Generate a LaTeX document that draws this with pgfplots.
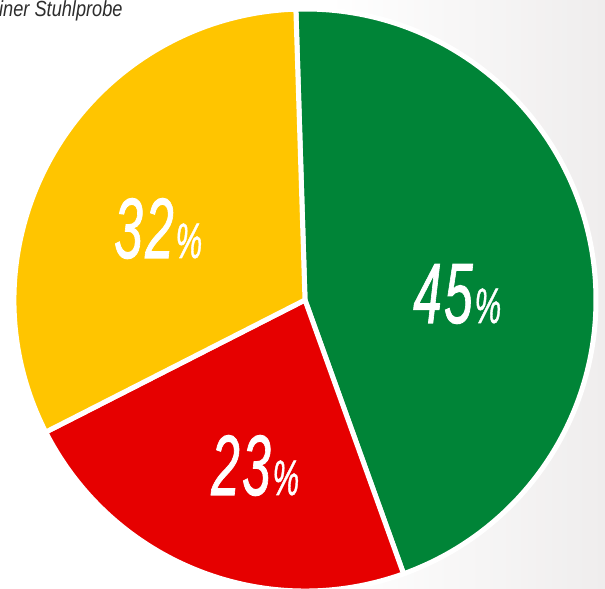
\documentclass[border=0pt]{standalone}
\usepackage{pgfplots}
\usepackage{pgfplotstable}
\pgfplotsset{compat=1.18}
\usepackage{fontspec}
\setmainfont{Liberation Sans}
\newfontfamily\numfont[FakeBold=1.2]{Liberation Sans}
\definecolor{pgreen}{RGB}{0,132,55}
\definecolor{pred}{RGB}{230,0,0}
\definecolor{pyellow}{RGB}{255,197,0}
\definecolor{bggray}{RGB}{239,237,237}
\definecolor{ttext}{RGB}{45,45,45}

\pgfplotstableread{
label value
45 45
23 23
32 32
}\piedata

\pgfplotstablegetelem{0}{value}\of\piedata \pgfmathsetmacro{\vA}{\pgfplotsretval}
\pgfplotstablegetelem{1}{value}\of\piedata \pgfmathsetmacro{\vB}{\pgfplotsretval}
\pgfplotstablegetelem{2}{value}\of\piedata \pgfmathsetmacro{\vC}{\pgfplotsretval}
\pgfmathsetmacro{\aS}{91.8}
\pgfmathsetmacro{\aA}{\aS-3.6*\vA}
\pgfmathsetmacro{\aB}{\aA-3.6*\vB}
\pgfmathsetmacro{\aC}{\aB-3.6*\vC}
\def\cx{305}
\def\cy{289}
\def\R{291}

\newcommand{\pct}[2]{\scalebox{0.6}[1]{\numfont\itshape\fontsize{86}{86}\selectfont #1\kern4bp#2\kern3bp\fontsize{50}{50}\selectfont\%}}

\begin{document}
\begin{tikzpicture}
\begin{axis}[
  scale only axis, width=605bp, height=589bp,
  xmin=0, xmax=605, ymin=0, ymax=589,
  hide axis, clip=true,
]
\fill[white] (axis cs:0,0) rectangle (axis cs:330,589);
\shade[left color=white, right color=bggray] (axis cs:329,0) rectangle (axis cs:605,589);

\fill[pgreen, draw=white, line width=5bp, line join=miter] (axis cs:\cx,\cy) -- (axis cs:{\cx+\R*cos(\aS)},{\cy+\R*sin(\aS)}) arc[start angle=\aS, end angle=\aA, radius=\R] -- cycle;
\fill[pred, draw=white, line width=5bp, line join=miter] (axis cs:\cx,\cy) -- (axis cs:{\cx+\R*cos(\aA)},{\cy+\R*sin(\aA)}) arc[start angle=\aA, end angle=\aB, radius=\R] -- cycle;
\fill[pyellow, draw=white, line width=5bp, line join=miter] (axis cs:\cx,\cy) -- (axis cs:{\cx+\R*cos(\aB)},{\cy+\R*sin(\aB)}) arc[start angle=\aB, end angle=\aC, radius=\R] -- cycle;

\node[text=white, anchor=base west, inner sep=0pt] at (axis cs:413,266) {\pct{4}{5}};
\node[text=white, anchor=base west, inner sep=0pt] at (axis cs:114,331) {\pct{3}{2}};
\node[text=white, anchor=base west, inner sep=0pt] at (axis cs:211,94) {\pct{2}{3}};
\node[text=ttext, anchor=base west, inner sep=0pt] at (axis cs:-1,572) {\scalebox{0.83}[1]{\fontsize{22}{22}\selectfont\itshape iner Stuhlprobe}};
\end{axis}
\pgfresetboundingbox
\path (current axis.south west) rectangle (current axis.north east);
\end{tikzpicture}
\end{document}
